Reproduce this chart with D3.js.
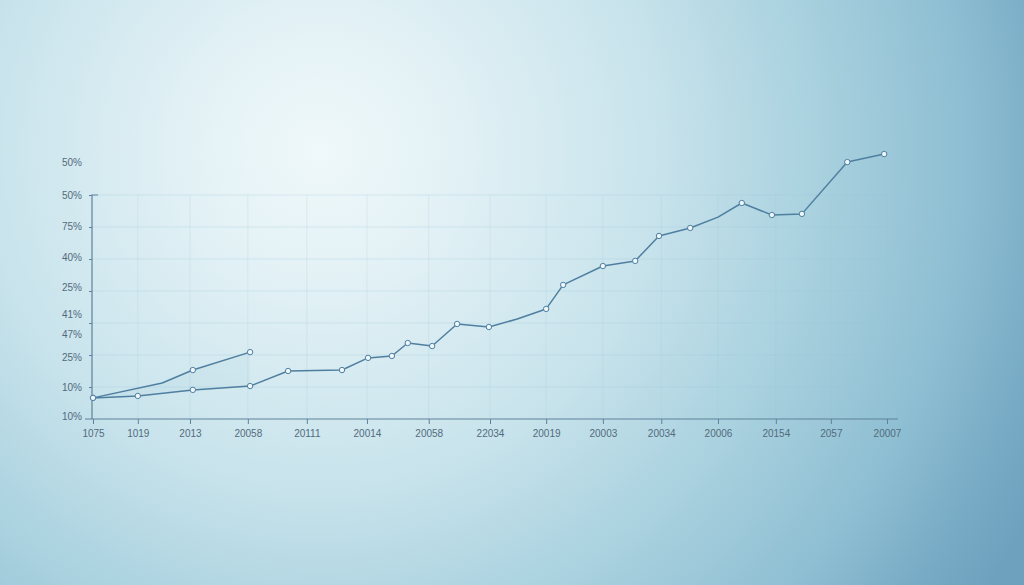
<!DOCTYPE html>
<html>
<head>
<meta charset="utf-8">
<script src="https://cdn.jsdelivr.net/npm/d3@7"></script>
<style>
  html, body { margin: 0; padding: 0; overflow: hidden; }
  svg { display: block; }
</style>
</head>
<body>
<svg id="chart" width="1024" height="585"></svg>
<script>
// ---------- data ----------
const xLabels = ["1075","1019","2013","20058","20111","20014","20058","22034","20019","20003","20034","20006","20154","2057","20007"];
const xTickPos = [0, 0.79, 1.71, 2.73, 3.77, 4.83, 5.92, 7.0, 7.99, 8.99, 10.02, 11.02, 12.04, 13.01, 14.0];

const yGridVals = [0, 10, 20, 30, 40, 50, 60, 70];
const yLabelVals = [80.3, 70, 60.3, 50.6, 41.2, 32.8, 26.6, 19.4, 10, 1];
const yLabels = ["50%","50%","75%","40%","25%","41%","47%","25%","10%","10%"];

// main series
const mainX = [0, 0.79, 1.76, 2.77, 3.44, 4.39, 4.85, 5.27, 5.55, 5.98, 6.42, 6.98, 7.48, 7.99, 8.29, 8.99, 9.56, 9.98, 10.53, 11.02, 11.44, 11.97, 12.50, 13.30, 13.95];
const mainY = [6.6, 7.2, 9.1, 10.3, 15.0, 15.3, 19.1, 19.7, 23.75, 22.8, 29.7, 28.75, 31.25, 34.4, 41.9, 47.8, 49.4, 57.2, 59.7, 63.1, 67.5, 63.75, 64.1, 80.3, 82.8];
const mainMarker = [1,1,1,1,1,1,1,1,1,1,1,1,0,1,1,1,1,1,1,0,1,1,1,1,1];

// short upper series
const upperX = [0, 1.22, 1.76, 2.77];
const upperY = [6.6, 11.25, 15.3, 20.9];
const upperMarker = [1, 0, 1, 1];

// ---------- drawing ----------
const W = 1024, H = 585;
const svg = d3.select("#chart");

const defs = svg.append("defs");
const grad = defs.append("radialGradient")
  .attr("id", "bg").attr("gradientUnits", "userSpaceOnUse")
  .attr("cx", 320).attr("cy", 150).attr("r", 800);
[[0, "#eff8fa"], [0.15, "#e4f2f6"], [0.42, "#c8e3ec"], [0.6, "#acd3e0"], [0.8, "#8fbfd3"], [0.92, "#78abc5"], [1, "#6ea1bd"]]
  .forEach(([o, c]) => grad.append("stop").attr("offset", o).attr("stop-color", c));
svg.append("rect").attr("width", W).attr("height", H).attr("fill", "url(#bg)");

const x = d3.scaleLinear().domain([0, 14]).range([93, 887]);
const y = d3.scaleLinear().domain([0, 70]).range([419, 195]);

const lineColor = "#4f7fa0";
const textColor = "#526b7c";
const font = "'Liberation Sans', Arial, sans-serif";

// grid
const grid = svg.append("g");
grid.selectAll("line.h").data(yGridVals.slice(1)).join("line")
  .attr("x1", 92).attr("x2", 898)
  .attr("y1", d => y(d)).attr("y2", d => y(d))
  .attr("stroke", "#9cc3d6").attr("stroke-opacity", 0.28).attr("stroke-width", 1);
grid.selectAll("line.v").data(xTickPos.slice(1)).join("line")
  .attr("x1", d => x(d)).attr("x2", d => x(d))
  .attr("y1", y(70)).attr("y2", y(0))
  .attr("stroke", "#9cc3d6").attr("stroke-opacity", 0.2).attr("stroke-width", 1);

// faint area between the two series (first section)
const upperPts = upperX.map((v, i) => [v, upperY[i]]);
const mainInterp = d3.scaleLinear().domain(mainX).range(mainY);
svg.append("path")
  .datum(upperPts)
  .attr("d", d3.area().x(d => x(d[0])).y0(d => y(mainInterp(d[0]))).y1(d => y(d[1])))
  .attr("fill", "#8fc3db").attr("fill-opacity", 0.1);

// axes
const xAxis = d3.axisBottom(x).tickValues(xTickPos).tickSize(5).tickFormat((d, i) => xLabels[i]);
const gx = svg.append("g").attr("transform", `translate(0,${y(0)})`).call(xAxis);
gx.select(".domain").remove();
gx.selectAll(".tick line").attr("stroke", "#5e8299");
gx.selectAll(".tick text").attr("fill", textColor).attr("font-size", 10).attr("font-family", font).attr("dy", "0.95em");
svg.append("line").attr("x1", 85).attr("x2", 898).attr("y1", y(0)).attr("y2", y(0))
  .attr("stroke", "#5e8299").attr("stroke-width", 1.2);

const yTicks = d3.axisLeft(y).tickValues(yGridVals.slice(1)).tickSize(3).tickFormat("");
const gy = svg.append("g").attr("transform", "translate(92,0)").call(yTicks);
gy.select(".domain").remove();
gy.selectAll(".tick line").attr("stroke", "#5e8299");
svg.append("path")
  .attr("d", `M98,${y(70)}H92V${y(0)}`)
  .attr("fill", "none").attr("stroke", "#5e8299").attr("stroke-width", 1.2);

const yLab = d3.axisLeft(y).tickValues(yLabelVals).tickSize(0).tickPadding(0).tickFormat((d, i) => yLabels[i]);
const gyl = svg.append("g").attr("transform", "translate(82,0)").call(yLab);
gyl.select(".domain").remove();
gyl.selectAll(".tick text").attr("fill", textColor).attr("font-size", 10).attr("font-family", font);

// lines
const line = d3.line().x(d => x(d[0])).y(d => y(d[1]));
const mainPts = mainX.map((v, i) => [v, mainY[i], mainMarker[i]]);
const upperPtsM = upperX.map((v, i) => [v, upperY[i], upperMarker[i]]);

[upperPtsM, mainPts].forEach(pts => {
  svg.append("path").datum(pts).attr("d", line)
    .attr("fill", "none").attr("stroke", lineColor).attr("stroke-width", 1.5)
    .attr("stroke-linejoin", "round");
  svg.append("g").selectAll("circle").data(pts.filter(p => p[2])).join("circle")
    .attr("cx", d => x(d[0])).attr("cy", d => y(d[1])).attr("r", 2.7)
    .attr("fill", "#eef7fb").attr("stroke", lineColor).attr("stroke-width", 1);
});
</script>
</body>
</html>
